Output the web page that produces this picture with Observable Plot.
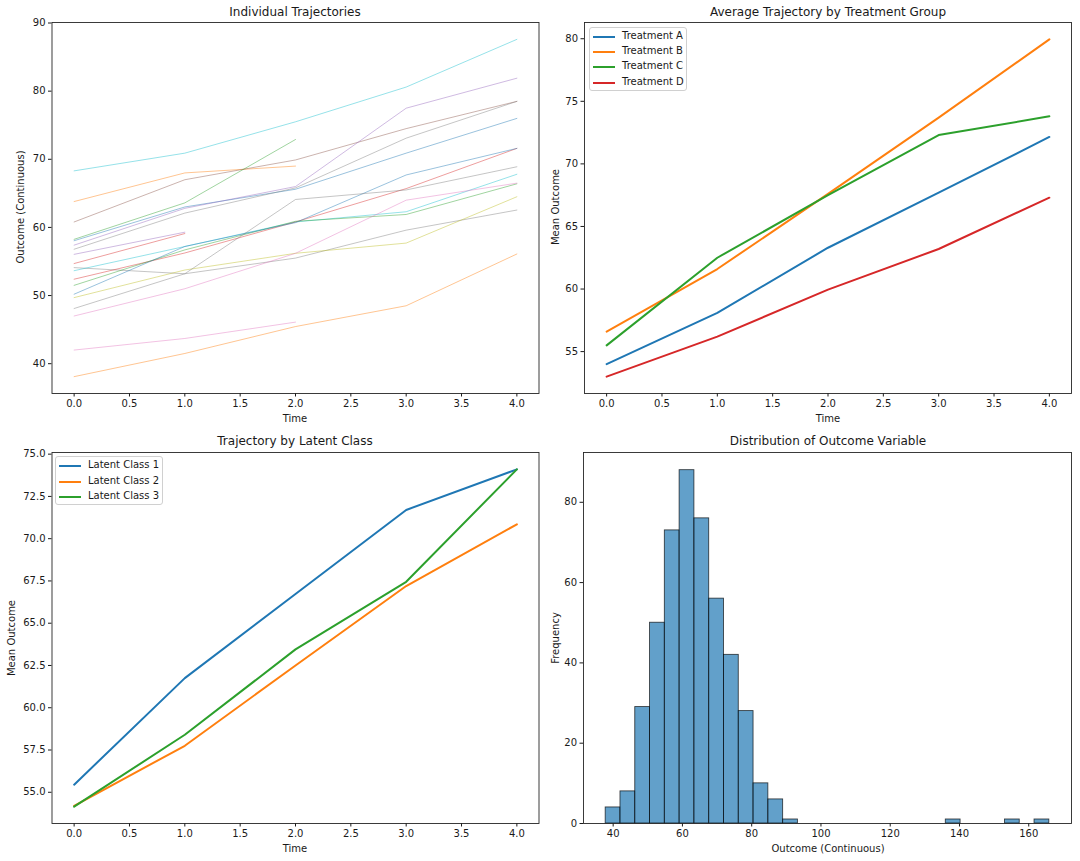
<!DOCTYPE html>
<html>
<head>
<meta charset="utf-8">
<script src="https://cdn.jsdelivr.net/npm/d3@7"></script>
<script src="https://cdn.jsdelivr.net/npm/@observablehq/plot@0.6"></script>
<style>
  body { margin: 0; background: #fff; font-family: "DejaVu Sans", sans-serif; }
  #fig { position: relative; width: 1080px; height: 861px; background: #fff; overflow: hidden; }
  .panel { position: absolute; }
  .txt { position: absolute; white-space: nowrap; color: #1a1a1a; transform: translate(-50%, -50%); line-height: 1; }
  .title { font-size: 12px; }
  .axlab { font-size: 10px; }
  .ylab { transform: translate(-50%, -50%) rotate(-90deg); }
  .legend { position: absolute; background: rgba(255,255,255,0.8); border: 1px solid #d0d0d0; border-radius: 3px; box-sizing: border-box; }
  .legend .item { position: absolute; font-size: 10px; color: #1a1a1a; white-space: nowrap; line-height: 1; }
  .legend .swatch { position: absolute; height: 2px; }
</style>
</head>
<body>
<div id="fig"></div>
<script>
// ---------------- DATA ----------------
const timePoints = [0, 1, 2, 3, 4];
const timeTicks = [0, 0.5, 1, 1.5, 2, 2.5, 3, 3.5, 4];

// Individual trajectories (values at time 0..4, null = missing)
const individualTrajectories = [
  [68.3, 70.9, 75.5, 80.6, 87.6],
  [63.8, 68.0, 69.0, null, null],
  [60.8, 67.0, 69.9, 74.5, 78.5],
  [58.25, 63.6, 72.9, null, null],
  [58.05, 63.0, 65.6, 70.9, 76.0],
  [57.4, 62.8, 66.0, 77.5, 81.9],
  [56.8, 62.1, 65.8, 73.1, 78.5],
  [56.05, 59.3, null, null, null],
  [54.7, 59.1, null, null, null],
  [54.1, 53.2, 55.5, 59.6, 62.55],
  [53.65, 57.2, 60.8, 62.3, 67.8],
  [52.4, 56.25, 60.8, 65.7, 71.6],
  [51.5, 56.7, 60.9, 61.9, 66.4],
  [50.2, 57.2, 60.7, 67.7, 71.6],
  [49.7, 53.75, 56.2, 57.7, 64.5],
  [48.1, 53.2, 64.1, 65.5, 68.9],
  [47.0, 51.0, 56.2, 64.0, 66.5],
  [42.0, 43.7, 46.1, null, null],
  [38.1, 41.5, 45.45, 48.5, 56.1]
];
const individualTicks = [40, 50, 60, 70, 80, 90];

// Treatment group means
const treatmentGroups = ["Treatment A", "Treatment B", "Treatment C", "Treatment D"];
const treatmentA = [54.0, 58.1, 63.3, 67.7, 72.15];
const treatmentB = [56.6, 61.6, 67.6, 73.7, 79.95];
const treatmentC = [55.5, 62.5, 67.5, 72.3, 73.8];
const treatmentD = [53.0, 56.2, 59.95, 63.2, 67.3];
const treatmentTicks = [55, 60, 65, 70, 75, 80];

// Latent class means
const latentClasses = ["Latent Class 1", "Latent Class 2", "Latent Class 3"];
const latentClass1 = [55.45, 61.75, 66.73, 71.7, 74.1];
const latentClass2 = [54.2, 57.75, 62.5, 67.2, 70.85];
const latentClass3 = [54.15, 58.4, 63.45, 67.45, 74.1];
const latentTicks = [55.0, 57.5, 60.0, 62.5, 65.0, 67.5, 70.0, 72.5, 75.0];

// Histogram of outcome (30 bins)
const histEdges = [37.84, 42.11, 46.38, 50.65, 54.92, 59.19, 63.46, 67.73, 72.00, 76.27,
                   80.54, 84.81, 89.08, 93.35, 97.62, 101.89, 106.16, 110.43, 114.70, 118.97,
                   123.24, 127.51, 131.78, 136.05, 140.32, 144.59, 148.86, 153.13, 157.40, 161.67, 165.94];
const histCounts = [4, 8, 29, 50, 73, 88, 76, 56, 42, 28,
                    10, 6, 1, 0, 0, 0, 0, 0, 0, 0,
                    0, 0, 0, 1, 0, 0, 0, 1, 0, 1];
const histXTicks = [40, 60, 80, 100, 120, 140, 160];
const histYTicks = [0, 20, 40, 60, 80];

// ---------------- STYLE ----------------
const tab10 = ["#1f77b4", "#ff7f0e", "#2ca02c", "#d62728", "#9467bd", "#8c564b", "#e377c2", "#7f7f7f", "#bcbd22", "#17becf"];
const subjectColors = ["#17becf", "#ff7f0e", "#8c564b", "#2ca02c", "#1f77b4", "#9467bd", "#7f7f7f", "#9467bd", "#d62728",
                       "#7f7f7f", "#17becf", "#d62728", "#2ca02c", "#1f77b4", "#bcbd22", "#7f7f7f", "#e377c2", "#e377c2", "#ff7f0e"];

const pad = ([a, b], f = 0.05) => [a - (b - a) * f, b + (b - a) * f];
const fig = document.getElementById("fig");
const f1 = d3.format(".1f");

const plotStyle = { fontFamily: "DejaVu Sans, sans-serif", fontSize: "10px", color: "#1a1a1a", background: "transparent", overflow: "visible" };

function axes(xTicks, xFmt, yTicks, yFmt) {
  return [
    Plot.axisX({ ticks: xTicks, tickFormat: xFmt, tickSize: 3.5, tickPadding: 3, label: null }),
    Plot.axisY({ ticks: yTicks, tickFormat: yFmt, tickSize: 3.5, tickPadding: 3, label: null }),
    Plot.frame({ stroke: "#262626", strokeWidth: 0.9 })
  ];
}

function place(svg, left, top) {
  svg.classList.add("panel");
  svg.style.left = left + "px";
  svg.style.top = top + "px";
  fig.appendChild(svg);
}

function addText(cls, text, x, y) {
  const d = document.createElement("div");
  d.className = "txt " + cls;
  d.textContent = text;
  d.style.left = x + "px";
  d.style.top = y + "px";
  fig.appendChild(d);
}

function addLegend(labels, colors, box, firstY, stepY) {
  const lg = document.createElement("div");
  lg.className = "legend";
  lg.style.left = box.x + "px";
  lg.style.top = box.y + "px";
  lg.style.width = box.w + "px";
  lg.style.height = box.h + "px";
  labels.forEach((lab, i) => {
    const sw = document.createElement("div");
    sw.className = "swatch";
    sw.style.background = colors[i];
    sw.style.left = "3px";
    sw.style.width = "22px";
    sw.style.top = (firstY + i * stepY - 1) + "px";
    lg.appendChild(sw);
    const t = document.createElement("div");
    t.className = "item";
    t.textContent = lab;
    t.style.left = "32px";
    t.style.top = (firstY + i * stepY - 6) + "px";
    lg.appendChild(t);
  });
  fig.appendChild(lg);
}

// ---------------- PANEL 1: Individual trajectories ----------------
const indRows = [];
individualTrajectories.forEach((vals, s) => {
  vals.forEach((v, i) => indRows.push({ subject: s, time: timePoints[i], value: v, color: subjectColors[s] }));
});
const indExtent = d3.extent(indRows.filter(d => d.value != null), d => d.value);

const p1 = Plot.plot({
  width: 540, height: 430,
  marginLeft: 51.5, marginRight: 1.5, marginTop: 22, marginBottom: 37,
  style: plotStyle,
  x: { domain: pad([0, 4]) },
  y: { domain: pad(indExtent) },
  color: { type: "identity" },
  marks: [
    Plot.line(indRows, { x: "time", y: "value", z: "subject", stroke: "color", strokeWidth: 1, strokeOpacity: 0.45 }),
    ...axes(timeTicks, f1, individualTicks, d3.format("d"))
  ]
});
place(p1, 0, 0);

// ---------------- PANEL 2: Treatment groups ----------------
const treatSeries = [treatmentA, treatmentB, treatmentC, treatmentD];
const treatRows = [];
treatSeries.forEach((vals, g) => vals.forEach((v, i) => treatRows.push({ group: treatmentGroups[g], time: timePoints[i], value: v })));
const treatExtent = d3.extent(treatRows, d => d.value);

const p2 = Plot.plot({
  width: 540, height: 430,
  marginLeft: 44, marginRight: 9, marginTop: 22, marginBottom: 37,
  style: plotStyle,
  x: { domain: pad([0, 4]) },
  y: { domain: pad(treatExtent) },
  color: { domain: treatmentGroups, range: tab10.slice(0, 4) },
  marks: [
    Plot.line(treatRows, { x: "time", y: "value", z: "group", stroke: "group", strokeWidth: 2 }),
    ...axes(timeTicks, f1, treatmentTicks, d3.format("d"))
  ]
});
place(p2, 540, 0);

// ---------------- PANEL 3: Latent classes ----------------
const latentSeries = [latentClass1, latentClass2, latentClass3];
const latentRows = [];
latentSeries.forEach((vals, g) => vals.forEach((v, i) => latentRows.push({ cls: latentClasses[g], time: timePoints[i], value: v })));
const latentExtent = d3.extent(latentRows, d => d.value);

const p3 = Plot.plot({
  width: 540, height: 431,
  marginLeft: 51.5, marginRight: 1.5, marginTop: 22, marginBottom: 38,
  style: plotStyle,
  x: { domain: pad([0, 4]) },
  y: { domain: pad(latentExtent) },
  color: { domain: latentClasses, range: tab10.slice(0, 3) },
  marks: [
    Plot.line(latentRows, { x: "time", y: "value", z: "cls", stroke: "cls", strokeWidth: 2 }),
    ...axes(timeTicks, f1, latentTicks, f1)
  ]
});
place(p3, 0, 430);

// ---------------- PANEL 4: Histogram ----------------
const histRows = histCounts.map((c, i) => ({ x1: histEdges[i], x2: histEdges[i + 1], count: c })).filter(d => d.count > 0);
const histMax = d3.max(histCounts);

const p4 = Plot.plot({
  width: 540, height: 431,
  marginLeft: 43, marginRight: 9, marginTop: 22, marginBottom: 38,
  style: plotStyle,
  x: { domain: pad([histEdges[0], histEdges[histEdges.length - 1]]) },
  y: { domain: [0, histMax * 1.05] },
  marks: [
    Plot.rectY(histRows, { x1: "x1", x2: "x2", y: "count", fill: "#1f77b4", fillOpacity: 0.7, stroke: "#000", strokeOpacity: 0.7, strokeWidth: 0.9, inset: 0 }),
    ...axes(histXTicks, d3.format("d"), histYTicks, d3.format("d"))
  ]
});
place(p4, 540, 430);

// ---------------- TEXT ----------------
addText("title", "Individual Trajectories", 295, 12);
addText("title", "Average Trajectory by Treatment Group", 828, 12);
addText("title", "Trajectory by Latent Class", 295, 441);
addText("title", "Distribution of Outcome Variable", 828, 441);

addText("axlab", "Time", 295, 419);
addText("axlab", "Time", 828, 419);
addText("axlab", "Time", 295, 849);
addText("axlab", "Outcome (Continuous)", 828, 849);

addText("axlab ylab", "Outcome (Continuous)", 21, 207);
addText("axlab ylab", "Mean Outcome", 556, 207);
addText("axlab ylab", "Mean Outcome", 12, 638);
addText("axlab ylab", "Frequency", 556, 638);

addLegend(treatmentGroups, tab10.slice(0, 4), { x: 589, y: 27, w: 98, h: 64 }, 9, 15.2);
addLegend(latentClasses, tab10.slice(0, 3), { x: 55, y: 456, w: 108, h: 49 }, 9, 15.5);
</script>
</body>
</html>
